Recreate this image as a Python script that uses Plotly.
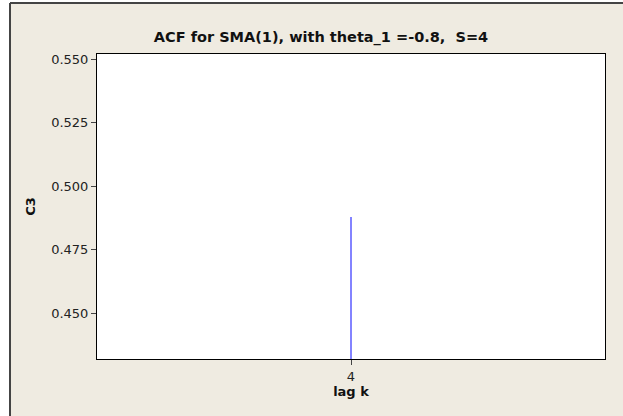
import plotly.graph_objects as go

# ACF of a seasonal MA(1) with theta_1 = -0.8, season S = 4
lags = [4]
acf_values = [0.8 / (1 + 0.8 ** 2)]
y_ticks = [0.450, 0.475, 0.500, 0.525, 0.550]

y_min, y_max = 0.4319, 0.552

fig = go.Figure()

# vertical spike from the bottom of the axis up to the autocorrelation value
for lag, val in zip(lags, acf_values):
    fig.add_trace(go.Scatter(
        x=[lag, lag], y=[y_min, val], mode="lines",
        line=dict(color="#5a5aff", width=1.5),
        hoverinfo="skip", showlegend=False,
    ))

font = "DejaVu Sans"
W, H = 623, 416
ml, mr, mt, mb = 97, 18, 54, 57
pw, ph = W - ml - mr, H - mt - mb

# frame edges expressed in paper units (kept inside the figure)
frame_left = (10 - ml) / pw
frame_right = (W - ml) / pw
frame_top = (H - mb - 3) / ph
frame_bottom = -mb / ph

fig.update_layout(
    width=W, height=H,
    margin=dict(l=ml, r=mr, t=mt, b=mb),
    paper_bgcolor="white",
    plot_bgcolor="rgba(0,0,0,0)",
    title=dict(text="<b>ACF for SMA(1), with theta_1 =-0.8,  S=4</b>",
               x=321 / W, xref="container", xanchor="center",
               y=1 - 37 / H, yanchor="middle",
               font=dict(family=font, size=14.5, color="#111")),
    font=dict(family=font, size=13, color="#222"),
    shapes=[
        # beige frame behind the whole graph
        dict(type="rect", xref="paper", yref="paper", layer="below",
             x0=frame_left, x1=frame_right, y0=frame_bottom, y1=frame_top,
             fillcolor="#efebe1", line=dict(width=0)),
        # dark frame edges on the left and top
        dict(type="line", xref="paper", yref="paper", layer="below",
             x0=frame_left, x1=frame_left, y0=frame_bottom, y1=frame_top,
             line=dict(color="#444", width=2)),
        dict(type="line", xref="paper", yref="paper", layer="below",
             x0=frame_left, x1=frame_right, y0=frame_top, y1=frame_top,
             line=dict(color="#444", width=2)),
        # white data region
        dict(type="rect", xref="paper", yref="paper", layer="below",
             x0=0, x1=1, y0=0, y1=1, fillcolor="white", line=dict(width=0)),
    ],
    xaxis=dict(
        range=[3, 5], tickvals=lags, ticktext=[str(v) for v in lags],
        showgrid=False, zeroline=False,
        showline=True, linecolor="black", linewidth=1, mirror=True,
        ticks="outside", ticklen=5, tickcolor="#444",
        title=dict(text="<b>lag k</b>", standoff=2,
                   font=dict(family=font, size=13, color="#111")),
    ),
    yaxis=dict(
        range=[y_min, y_max], tickvals=y_ticks,
        ticktext=[f"{v:.3f}" for v in y_ticks],
        showgrid=False, zeroline=False,
        showline=True, linecolor="black", linewidth=1, mirror=True,
        ticks="outside", ticklen=5, tickcolor="#444",
        title=dict(text="<b>C3</b>", standoff=12,
                   font=dict(family=font, size=13, color="#111")),
    ),
)

fig.write_html("out.html")
